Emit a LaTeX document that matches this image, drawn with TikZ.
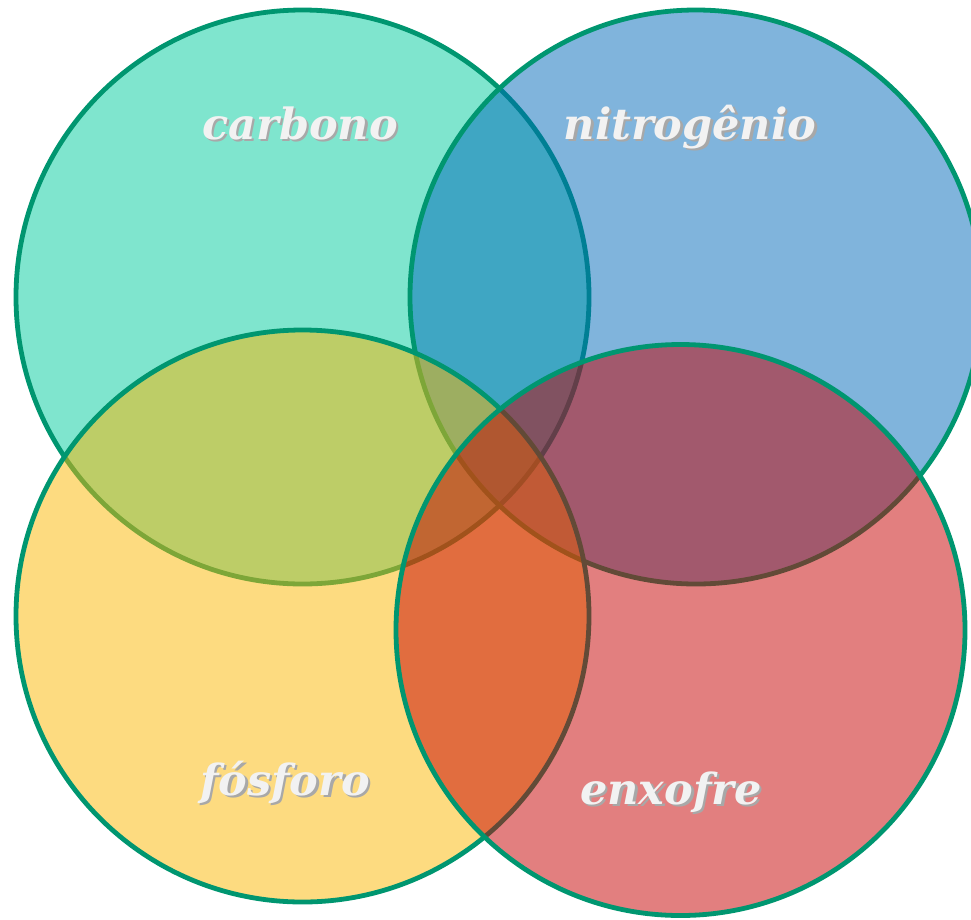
\documentclass[tikz,border=0pt]{standalone}
\usepackage{fontspec}
\setmainfont{DejaVu Serif}
\definecolor{cC}{HTML}{00CB9D}
\definecolor{cN}{HTML}{0169B9}
\definecolor{cP}{HTML}{FBB701}
\definecolor{cS}{HTML}{C50000}
\definecolor{edge}{HTML}{009670}
\definecolor{txt}{HTML}{F2F2F2}
\definecolor{shd}{HTML}{A8A8A8}
\newcommand{\shadowtext}[1]{\makebox[0pt][l]{\hspace{2.5pt}\raisebox{-2.5pt}{\textcolor{shd}{#1}}}#1}
\tikzset{
  blob/.style={draw=edge, line width=4.8pt, fill opacity=0.5},
  lbl/.style={font=\fontsize{43}{48}\selectfont\bfseries\itshape, text=txt, inner sep=0pt, anchor=base}
}
\begin{document}
\begin{tikzpicture}[x=1pt,y=-1pt]
\useasboundingbox (0,0) rectangle (971,919);
\begin{scope}
\clip (0,0) rectangle (971,919);
\path[blob, fill=cC] (302.5,297) ellipse [x radius=286.5, y radius=287] coordinate (cc);
\path[blob, fill=cN] (696,297) ellipse [x radius=286, y radius=287] coordinate (cn);
\path[blob, fill=cP] (302.5,616) ellipse [x radius=286.5, y radius=286] coordinate (cp);
\path[blob, fill=cS] (680.5,630) ellipse [x radius=284.5, y radius=285.5] coordinate (cs);
\end{scope}
\node[lbl] (tC) at (300,139) {\shadowtext{carbono}};
\node[lbl] (tN) at (690,139) {\shadowtext{nitrogênio}};
\node[lbl] (tP) at (285,795) {\shadowtext{fósforo}};
\node[lbl] (tS) at (671,804) {\shadowtext{enxofre}};
\end{tikzpicture}
\end{document}
